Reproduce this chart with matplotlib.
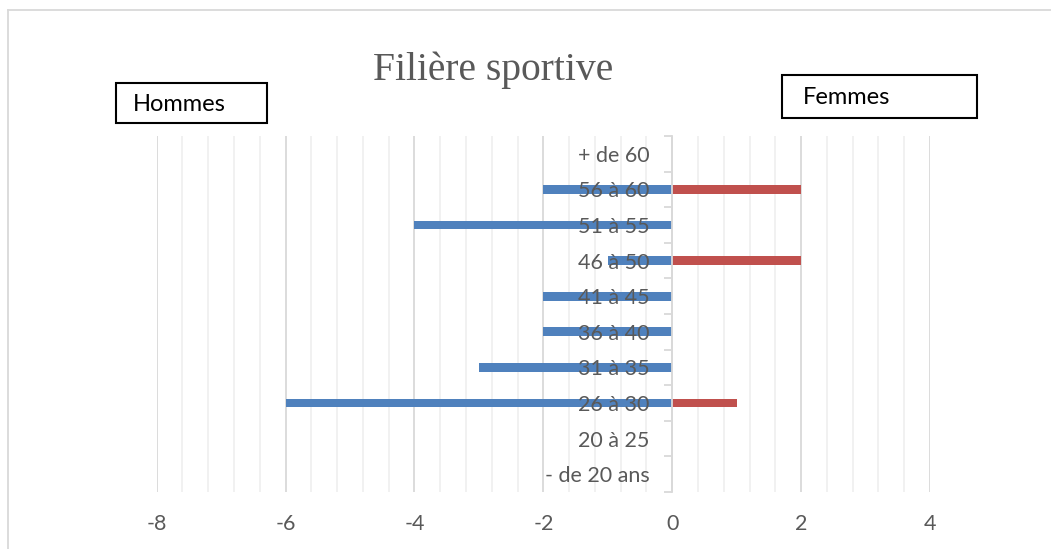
import matplotlib
matplotlib.use("Agg")
import matplotlib.pyplot as plt
from matplotlib.patches import Rectangle
from matplotlib.lines import Line2D
import numpy as np

# data
categories = ["- de 20 ans", "20 à 25", "26 à 30", "31 à 35", "36 à 40",
              "41 à 45", "46 à 50", "51 à 55", "56 à 60", "+ de 60"]
hommes = [0, 0, -6, -3, -2, -2, -1, -4, -2, 0]
femmes = [0, 0, 1, 0, 0, 0, 2, 0, 2, 0]
x_ticks = [-8, -6, -4, -2, 0, 2, 4]

plt.rcParams['font.family'] = ['Lato', 'DejaVu Sans']
plt.rcParams['axes.unicode_minus'] = False

fig = plt.figure(figsize=(10.51, 5.49), dpi=100)
ax = fig.add_axes([0.1491, 0.1038, 0.7358, 0.6485])
ax.set_axisbelow(True)

y = np.arange(len(categories))
ax.barh(y, hommes, height=0.25, color="#4f81bd", zorder=3)
ax.barh(y, femmes, height=0.25, color="#c0504d", zorder=3)

ax.set_xlim(-8, 4)
ax.set_ylim(-0.5, len(categories) - 0.5)

# gridlines
ax.set_xticks(x_ticks)
ax.set_xticks(np.arange(-8, 4.01, 0.4), minor=True)
ax.grid(axis="x", which="major", color="#d9d9d9", linewidth=1.3)
ax.grid(axis="x", which="minor", color="#f0f0f0", linewidth=1.3)
ax.tick_params(axis="x", which="both", length=0, pad=16, labelsize=15.5, labelcolor="#595959")

# category axis at x = 0, labels drawn over the bars
for s in ["top", "right", "bottom"]:
    ax.spines[s].set_visible(False)
ax.spines["left"].set_position(("data", 0))
ax.spines["left"].set_color("#d9d9d9")
ax.spines["left"].set_linewidth(1.3)
ax.spines["left"].set_zorder(4)
ax.set_yticks(y)
ax.set_yticklabels(categories)
ax.set_yticks(np.arange(-0.5, len(categories), 1), minor=True)
ax.tick_params(axis="y", which="major", length=0, pad=16.5, labelsize=15.5, labelcolor="#595959")
ax.tick_params(axis="y", which="minor", length=6, width=1.3, color="#d9d9d9")
ax.yaxis.set_zorder(5)

fig.text(0.469, 0.872, "Filière sportive", family="Liberation Serif", fontsize=28.5,
         color="#595959", ha="center", va="center")

# text boxes
fig.patches.append(Rectangle((116 / 1051, 1 - 123 / 549), 151 / 1051, 40 / 549,
                             transform=fig.transFigure, fill=False, edgecolor="black", linewidth=1.5))
fig.text(133 / 1051, 1 - 104 / 549, "Hommes", fontsize=17, color="black", va="center")
fig.patches.append(Rectangle((782 / 1051, 1 - 118 / 549), 195 / 1051, 43 / 549,
                             transform=fig.transFigure, fill=False, edgecolor="black", linewidth=1.5))
fig.text(803 / 1051, 1 - 98 / 549, "Femmes", fontsize=17, color="black", va="center")

# chart border
fig.add_artist(Line2D([7.5 / 1051, 7.5 / 1051], [0, 1 - 9.5 / 549], transform=fig.transFigure,
                      color="#d9d9d9", linewidth=1.3))
fig.add_artist(Line2D([7.5 / 1051, 1], [1 - 9.5 / 549, 1 - 9.5 / 549], transform=fig.transFigure,
                      color="#d9d9d9", linewidth=1.3))

fig.savefig("out.png", dpi=100)
